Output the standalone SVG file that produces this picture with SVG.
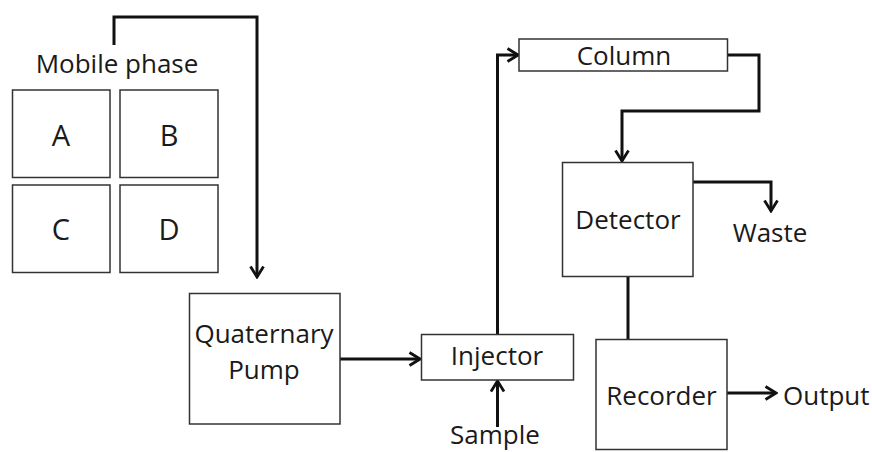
<svg xmlns="http://www.w3.org/2000/svg" width="872" height="452" viewBox="0 0 872 452">
<style>
.box{fill:#fff;stroke:#333;stroke-width:1.5}
.t{font-family:"Open Sans","Liberation Sans",sans-serif;font-size:26px;fill:#1a1a1a;text-anchor:middle}
.L{font-size:29px}
.c{fill:none;stroke:#111;stroke-width:3}
</style>
<defs>
<marker id="ah" viewBox="0 0 14 16" refX="12" refY="8" markerWidth="14" markerHeight="16" markerUnits="userSpaceOnUse" orient="auto">
<path d="M1.5,1.5 L12,8 L1.5,14.5" fill="none" stroke="#111" stroke-width="2.8"/>
</marker>
</defs>
<rect width="872" height="452" fill="#fff"/>
<g id="connectors">
<path class="c" d="M114,45 V17 H257 V277" marker-end="url(#ah)"/>
<path class="c" d="M340,359 H420" marker-end="url(#ah)"/>
<path class="c" d="M497.5,427 V381" marker-end="url(#ah)"/>
<path class="c" d="M497.5,334 V55 H518" marker-end="url(#ah)"/>
<path class="c" d="M728,55 H759 V111 H622 V161" marker-end="url(#ah)"/>
<path class="c" d="M693,182 H771 V211" marker-end="url(#ah)"/>
<path class="c" d="M628,277 V339"/>
<path class="c" d="M727,393 H776" marker-end="url(#ah)"/>
</g>
<g id="mobile-phase">
<text class="t" x="117" y="73">Mobile phase</text>
</g>
<g id="A"><rect class="box" x="12.5" y="90" width="97.5" height="87.5"/><text class="t L" x="61" y="146">A</text></g>
<g id="B"><rect class="box" x="120" y="90" width="98" height="87.5"/><text class="t L" x="169" y="146">B</text></g>
<g id="C"><rect class="box" x="12.5" y="185" width="97.5" height="87.5"/><text class="t L" x="61" y="240">C</text></g>
<g id="D"><rect class="box" x="120" y="185" width="98" height="87.5"/><text class="t L" x="169" y="240">D</text></g>
<g id="pump"><rect class="box" x="189.5" y="293.5" width="150.5" height="130.5"/><text class="t" x="264" y="343">Quaternary</text><text class="t" x="264" y="379">Pump</text></g>
<g id="injector"><rect class="box" x="421.5" y="334.5" width="152" height="45.5"/><text class="t" x="497" y="365">Injector</text></g>
<g id="sample"><text class="t" x="495" y="444">Sample</text></g>
<g id="column"><rect class="box" x="519" y="39" width="208.5" height="32"/><text class="t" x="624" y="65">Column</text></g>
<g id="detector"><rect class="box" x="562.5" y="162.5" width="130.5" height="114"/><text class="t" x="628" y="229">Detector</text></g>
<g id="waste"><text class="t" x="770" y="242">Waste</text></g>
<g id="recorder"><rect class="box" x="596" y="339.5" width="131" height="110"/><text class="t" x="661.5" y="405">Recorder</text></g>
<g id="output"><text class="t" x="783" y="405" style="text-anchor:start">Output</text></g>
</svg>
